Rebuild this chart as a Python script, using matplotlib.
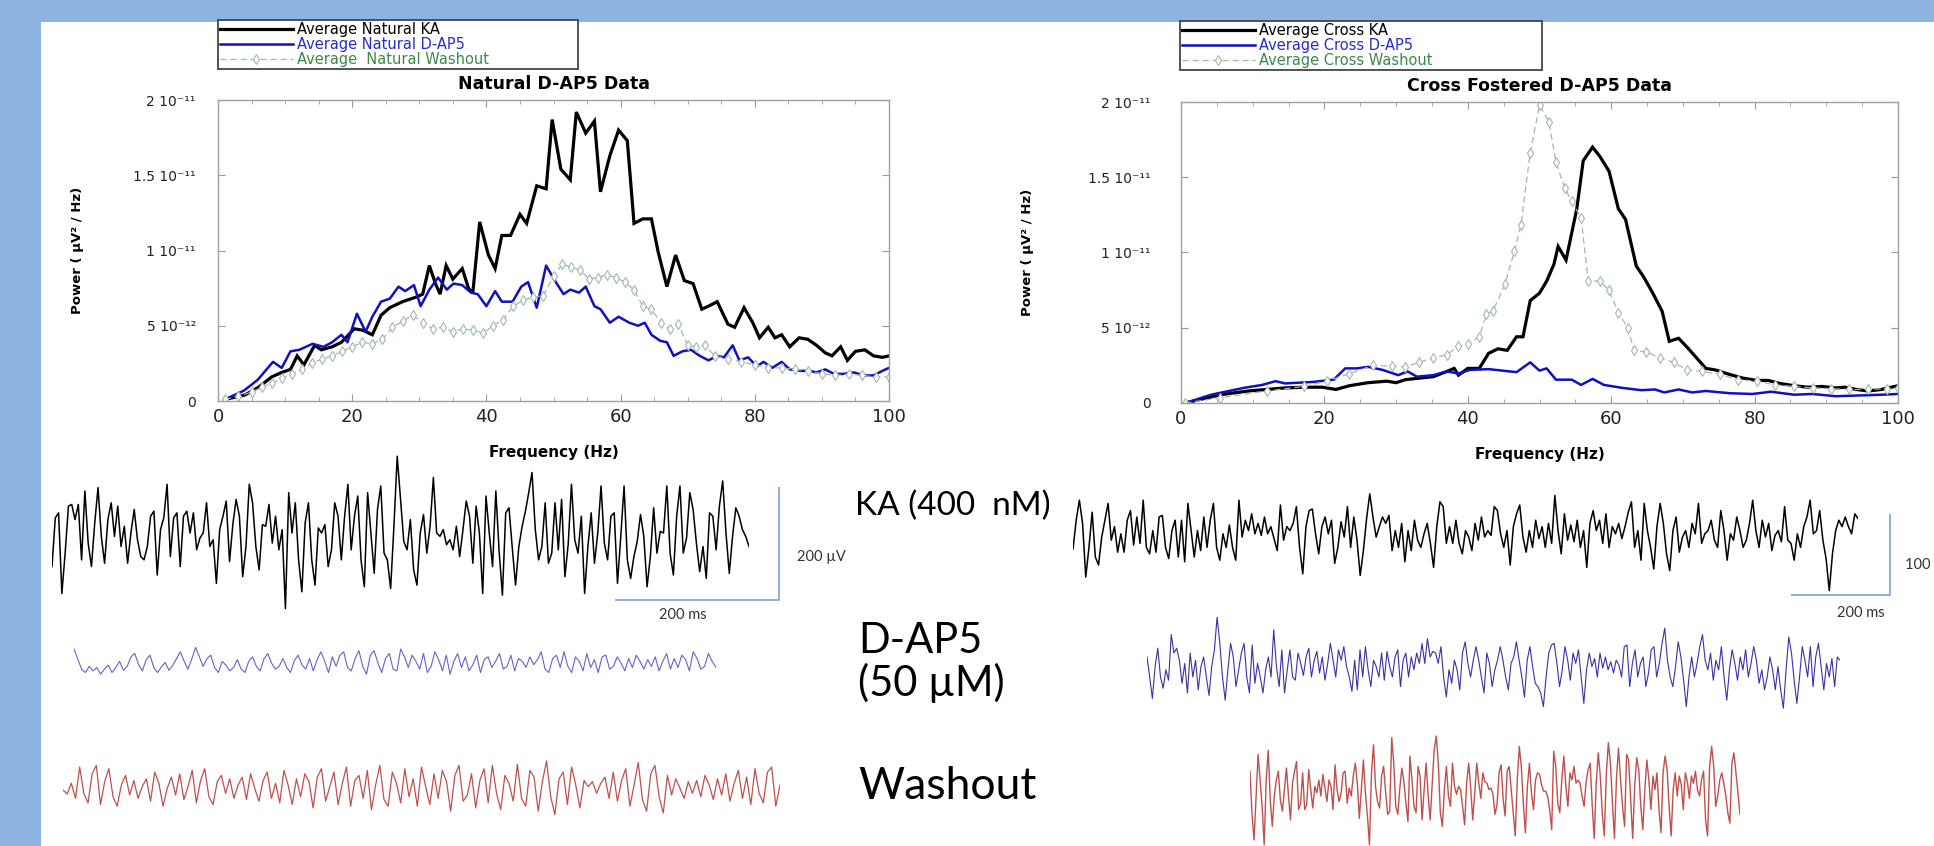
import numpy as np
import matplotlib.pyplot as plt
from matplotlib.patches import Rectangle

W, H = 1934, 846

# ---- power spectra (frequency in Hz, power in units of 1e-12 uV^2/Hz) ----
nat_ka_f = [1, 4, 6, 8, 9.5, 10.8, 11.8, 12.8, 14.4, 15.4, 17, 18.4, 20.3, 21.6, 23, 24.3, 25.6, 27.5, 29.5, 30.5,
            31.5, 32.4, 33.1, 34, 35, 36.4, 37.4, 38, 39, 40.3, 41.3, 42.3, 43.6, 45, 46, 47.5, 48.9, 49.8, 51.1,
            52.5, 53.4, 54.8, 56.1, 57, 58.4, 59.7, 61, 62, 63.3, 64.6, 65.6, 66.9, 68.2, 69.5, 70.8, 72.1, 73.1,
            74.4, 76, 77, 78.4, 79.7, 80.7, 82, 83, 84, 85.2, 86.6, 87.9, 89.2, 90.5, 91.5, 92.8, 93.8, 95, 96.4,
            97.7, 99, 100]
nat_ka_p = [0.1, 0.4, 0.9, 1.6, 1.9, 2.1, 3.0, 2.4, 3.7, 3.4, 3.6, 3.9, 4.8, 4.7, 4.4, 5.7, 6.2, 6.6, 6.9, 7.1,
            9.0, 7.8, 7.1, 9.0, 8.1, 8.8, 7.4, 7.3, 11.9, 9.7, 8.8, 11.0, 11.0, 12.4, 11.8, 14.3, 14.1, 18.7, 15.4,
            14.7, 19.2, 17.8, 18.6, 13.9, 16.3, 18.0, 17.3, 11.8, 12.1, 12.1, 9.9, 7.6, 9.7, 8.0, 7.8, 6.1, 6.3,
            6.6, 5.1, 4.9, 6.2, 5.2, 4.2, 4.9, 4.2, 4.4, 3.6, 4.2, 4.1, 3.7, 3.2, 3.0, 3.6, 2.7, 3.3, 3.4,
            3.0, 2.9, 3.0]

nat_dap5_f = [1, 3.9, 5.9, 8.2, 9.5, 10.8, 12.1, 14.1, 15.7, 17, 18.4, 19.3, 20.7, 22, 23, 24.3, 25.6, 26.9, 27.9,
              29.2, 30.2, 31.5, 32.8, 34.1, 35.1, 36.4, 37.7, 38.7, 40, 41.3, 42.3, 43.9, 45.2, 46.2, 47.5, 48.9,
              50.2, 51.5, 52.5, 53.8, 54.8, 56.1, 57, 58.4, 59.7, 61.3, 62.6, 63.6, 64.6, 65.9, 66.9, 67.9, 69.2,
              70.5, 71.8, 73.1, 74.4, 75.4, 76.7, 77.7, 79, 80.3, 81.3, 82.6, 84, 85.2, 86.9, 88.2, 89.2, 90.5,
              91.8, 93.1, 94.8, 96.1, 97.7, 99, 100]
nat_dap5_p = [0.1, 0.7, 1.4, 2.6, 2.2, 3.3, 3.4, 3.8, 3.6, 3.9, 4.4, 3.9, 5.8, 4.6, 5.6, 6.6, 6.8, 7.6, 7.3,
              7.7, 6.3, 7.4, 8.2, 7.4, 7.8, 7.7, 7.2, 7.1, 6.3, 7.3, 6.6, 6.6, 7.6, 7.9, 6.2, 9.0,
              8.0, 7.1, 7.4, 7.2, 7.6, 6.3, 6.1, 5.2, 5.6, 5.2, 5.0, 5.2, 4.4, 4.0, 3.9, 3.0, 3.3,
              3.4, 3.0, 2.7, 3.0, 2.9, 3.7, 2.7, 2.9, 2.3, 2.6, 2.2, 2.6, 2.1, 2.0, 2.0, 1.9, 2.1,
              1.8, 1.8, 1.9, 1.7, 1.7, 2.0, 2.2]

nat_wash_f = [1, 3, 5, 6.5, 8, 9.5, 11, 12.5, 14, 15.5, 17, 18.5, 20, 21.5, 23, 24.5, 26, 27.5, 29, 30.5, 32,
              33.5, 35, 36.5, 38, 39.5, 41, 42.5, 44, 45.5, 47, 48.5, 50, 51.3, 52.6, 54, 55.3, 56.6, 58, 59.3,
              60.6, 62, 63.3, 64.6, 66, 67.3, 68.6, 70, 71.3, 72.6, 74, 76, 78, 80, 82, 84, 86, 88, 90, 92, 94,
              96, 98, 100]
nat_wash_p = [0.1, 0.3, 0.6, 0.9, 1.2, 1.5, 1.8, 2.1, 2.5, 2.8, 3.0, 3.3, 3.6, 3.9, 3.8, 4.1, 4.9, 5.3, 5.7, 5.2,
              4.8, 4.9, 4.6, 4.8, 4.7, 4.5, 5.0, 5.4, 6.3, 6.7, 6.9, 7.0, 8.3, 9.1, 8.9, 8.7, 8.1, 8.2, 8.4, 8.2,
              7.9, 7.4, 6.3, 6.1, 5.2, 4.8, 5.1, 3.7, 3.6, 3.7, 3.0, 2.8, 2.6, 2.4, 2.2, 2.2, 2.1, 2.0, 1.8, 1.7,
              1.8, 1.7, 1.6, 1.6]

cross_ka_f = [0.6, 5.5, 9.4, 12, 14.5, 17.1, 19.7, 21.6, 23.5, 26.1, 28.7, 30, 31.3, 33.2, 35.2, 37.1, 38.1,
              38.7, 40, 41.6, 42.9, 44.2, 45.5, 46.8, 47.7, 48.7, 50, 51, 52, 52.6, 53.7, 55.2, 56.1, 57.4, 58.4,
              59.7, 61, 62, 63.5, 64.5, 65.8, 67.1, 68.1, 69.4, 70.6, 71.9, 73.2, 74.5, 76.5, 78.4, 80.3, 81.9,
              83.5, 85.5, 87.4, 89.4, 91.3, 92.6, 94.2, 95.8, 97.7, 100]
cross_ka_p = [0.0, 0.55, 0.8, 0.9, 1.0, 1.05, 1.05, 0.9, 1.15, 1.35, 1.45, 1.35, 1.55, 1.65, 1.75, 2.1, 2.3,
              1.85, 2.3, 2.3, 3.3, 3.6, 3.5, 4.4, 4.4, 6.8, 7.3, 8.1, 9.2, 10.4, 9.5, 12.9, 16.1, 17.0, 16.4,
              15.4, 12.9, 12.2, 9.1, 8.4, 7.3, 6.1, 4.1, 4.3, 3.7, 3.0, 2.3, 2.2, 1.9, 1.65, 1.5, 1.5,
              1.3, 1.15, 1.05, 1.1, 1.0, 1.05, 0.9, 0.8, 0.9, 1.15]

cross_dap5_f = [0.6, 4.2, 8.7, 11.3, 13.2, 14.5, 16.5, 18.4, 20.3, 21.3, 22.9, 24.5, 26.1, 28.1, 30.3, 31.6,
                32.9, 35.2, 37.1, 38.7, 40.3, 42.9, 44.8, 46.8, 48.7, 50, 51, 52.3, 54.5, 55.8, 57.4, 59, 61.6,
                64.2, 66.1, 67.4, 69.4, 71.3, 73.2, 76.5, 79.7, 82.3, 85.5, 88.1, 91.3, 94.5, 97.7, 100]
cross_dap5_p = [0.0, 0.55, 1.0, 1.2, 1.45, 1.3, 1.35, 1.4, 1.5, 1.55, 2.3, 2.3, 2.4, 2.2, 1.85, 2.1,
                1.75, 1.85, 2.1, 1.95, 2.2, 2.25, 2.15, 2.05, 2.7, 2.15, 2.3, 1.55, 1.55, 1.2, 1.6, 1.2, 1.0,
                0.85, 0.9, 0.7, 0.9, 0.7, 0.8, 0.65, 0.6, 0.75, 0.55, 0.6, 0.45, 0.5, 0.55, 0.6]

cross_wash_f = [0.6, 5.5, 12, 17.1, 20.3, 23.5, 26.8, 29.4, 31.3, 33.2, 35.2, 37.1, 38.7, 40, 41.6, 42.6, 43.5,
                45.2, 46.5, 47.4, 48.7, 50, 51.3, 52.3, 53.5, 54.5, 55.8, 56.8, 58.4, 59.7, 61, 62.3, 63.2, 64.8,
                66.8, 68.7, 70.6, 72.6, 75.2, 77.7, 80.3, 82.9, 85.5, 88.1, 90.6, 93.2, 95.8, 98.4, 100]
cross_wash_p = [0.0, 0.35, 0.8, 1.1, 1.45, 1.95, 2.5, 2.45, 2.4, 2.7, 3.0, 3.2, 3.8, 3.9, 4.4, 5.9, 6.1,
                7.9, 10.1, 11.8, 16.6, 19.8, 18.7, 16.0, 14.3, 13.4, 12.3, 8.1, 8.1, 7.5, 6.0, 5.0, 3.5, 3.4,
                3.0, 2.7, 2.2, 2.1, 1.9, 1.55, 1.45, 1.2, 1.1, 1.0, 0.95, 0.9, 0.9, 0.95, 1.0]

y_ticks = [0, 5e-12, 1e-11, 1.5e-11, 2e-11]
y_tick_labels = ['0', '5 10⁻¹²', '1 10⁻¹¹', '1.5 10⁻¹¹', '2 10⁻¹¹']
x_ticks = [0, 20, 40, 60, 80, 100]

# ---- example field potential traces (uV) ----
nat_ka_trace = [-60, 27, 36, -108, -36, 48, 51, 24, 51, -48, 75, -18, -60, 18, 81, -6, -54, 24, 54, -6, 48, -24,
                12, -54, 0, 42, -12, -42, -48, -24, 30, 39, -75, 6, 27, 87, -42, 27, 36, -60, 30, 39, 0, 36, -30,
                -9, 0, 54, -24, -12, -90, 6, 30, 57, -51, 15, 60, 30, -78, -24, 87, 54, -24, -66, 15, 12, 51, -18,
                30, -30, 6, -135, 72, 0, 54, -48, -105, 18, 54, -48, -93, 9, 0, 15, -60, -30, 54, 30, -48, 30, 87,
                -30, 30, 66, -48, -96, 72, 0, -72, 42, 84, -36, -48, -99, 12, 137, 60, -15, -30, 24, -66, -93, 0,
                33, -36, 12, 99, 0, -6, 6, -21, -12, -30, 12, -42, 6, 57, 30, -54, 48, 0, -108, 66, 0, -60, 75,
                -33, -111, 36, 45, -27, -93, -24, 12, 39, 72, 108, 6, -48, -24, 54, -54, -36, 54, -30, 60, -78,
                -21, 87, -12, -36, 30, -108, -24, 36, -54, 0, 84, -18, -48, 30, 36, -90, -6, 84, -48, -81, -42,
                -15, 33, -6, -96, -42, 45, -36, 3, 0, 84, -36, -75, 30, 84, -36, -9, 72, 42, -18, -69, -24, -81,
                36, 30, -30, 48, 93, 0, -72, -6, 45, 30, 6, -6, -24]

nat_dap5_trace = [25, 7, -11, -17, -6, -14, -8, -20, -11, -4, -17, -8, 3, -13, -6, 11, 17, -3, -14, 6, 14, -8, -17,
                  -7, 1, -13, -4, 8, 20, 3, -11, 7, 28, 11, -6, 8, 14, -8, -17, 3, -4, -14, -8, 6, -11, -17, 3, 11,
                  -6, -14, 7, 17, 0, -11, -6, 8, -8, -17, 4, 14, -3, -11, 8, -14, 6, 20, 3, -17, 11, -6, 14, 20, -8,
                  -14, 8, 22, -6, -20, 14, 22, 0, -17, 8, 17, -11, -14, 25, 11, -8, 14, 3, -11, 17, -17, -6, 20, 6,
                  -14, 14, -20, 3, 17, -8, 11, -14, -3, 14, -17, 6, 11, -8, 3, 17, -11, -6, 14, -14, 8, 3, -8, 11,
                  -3, 6, 20, -11, -17, 8, 14, -8, 20, -6, -17, 11, 3, -14, 17, -8, 6, -17, 11, 14, -11, -6, 11, 0,
                  -14, 8, -8, 14, 3, -11, 6, -6, 11, -14, 3, 17, -11, 8, -8, 14, 6, -14, 20, 8, -11, -6, 17, 3, -8]

nat_wash_trace = [0, -7, 12, -15, 41, -6, -23, 29, 44, -26, 15, 38, -12, -29, 9, 26, -9, 17, -15, 6, 20, -20, 32,
                  12, -29, 3, 23, -9, 29, -17, 6, 35, -23, 17, 38, -12, -26, 15, 26, -6, 20, -15, 9, 23, -17, 29, 3,
                  -20, 17, 32, -15, 12, -23, 35, 9, -26, 20, -12, 29, 15, -32, 23, 38, -20, 6, 32, -26, 12, 41, -29,
                  17, 26, -15, 35, -35, 9, 44, -17, -29, 32, 12, -23, 38, -12, 20, -29, 41, 6, -26, 29, -15, 35, 15,
                  -38, 26, 44, -20, -9, 29, -32, 17, 38, -23, 44, -6, -35, 26, 12, -20, 46, -15, -29, 35, 23, -38,
                  15, 52, -12, -44, 20, 32, -26, 41, 9, -32, 17, 6, 15, -6, 12, 23, -15, 32, -20, 17, 38, -29, 9,
                  49, -17, -38, 29, 44, -12, -41, 26, -9, 20, 3, -15, 15, -6, 17, -12, 26, 9, -17, 20, -9, 29, -20,
                  12, 35, -15, 23, -26, 38, -6, -23, 32, 41, -29, 9]

cross_ka_trace = [-15, 21, 46, 17, -50, -13, 31, -25, -35, 0, 21, 42, -4, 13, -19, 4, -19, 21, 33, -10, 25, -8, 46,
                  -13, -21, 8, -19, 25, 27, -13, -27, 8, 21, -25, 21, -31, 42, 8, -25, 8, -17, 25, -13, 21, 42, -13,
                  -29, 4, -13, 15, -13, -29, 46, 0, 21, 8, 29, 4, 17, 2, 25, 4, 13, -2, -17, 40, -4, 13, 8, 17, 38,
                  -13, -46, 13, 33, 35, 4, -21, 13, 25, 4, 21, -33, -13, 19, 0, 38, -13, 25, -4, -48, -17, 23, 54,
                  25, 0, 13, 25, 17, 27, -17, 8, -13, 17, -31, 8, -17, 21, -4, -13, 4, 17, -8, -38, 13, 44, 38, -8,
                  13, -8, 21, -8, -21, 8, 0, -17, 17, -4, 25, 0, 8, 2, 38, 33, 4, -13, 8, -35, 13, 29, 40, 0, -19,
                  8, -13, 21, -2, 13, -13, 17, -8, 52, 8, -21, 29, -4, 15, -6, 21, -13, 8, -38, 17, 33, 8, 21, -8,
                  29, -13, 13, 4, 17, -2, 13, 31, 44, -13, 8, -29, 42, 8, -13, -40, 13, 42, 17, -21, -42, 8, 25,
                  -19, 0, 8, -13, 17, 4, 42, -8, 4, 8, 21, -4, -13, 33, 8, -29, 4, -4, 25, 8, -13, -4, 17, 46, 8,
                  -13, 21, 0, 17, -17, 2, 8, -6, 38, -4, -8, -29, 4, -13, 13, 25, 46, 4, 8, 33, -4, -27, -67, -21,
                  8, 21, 13, 25, 13, 4, 29, 23]

cross_dap5_trace = [10, -15, -42, -2, 21, -15, -29, -6, -19, 38, 15, 21, 6, -23, 2, -35, 15, -15, 6, -31, -2, 10,
                    -15, -38, -2, 19, 60, 27, -15, -44, -6, 27, 10, -27, -6, 15, 27, -15, -35, 25, -23, 2, -15, -35,
                    -6, 10, -15, 44, -2, -27, 19, -35, -6, 19, -15, -19, 15, 2, -13, 10, 21, -15, 6, 17, -10, 10,
                    -19, 2, 27, 6, -15, 19, 6, 23, -2, -15, -33, 6, -31, 19, -15, 23, -6, -27, 6, -2, -15, 15, -19,
                    17, -2, -15, 10, 19, -27, 6, 15, -15, 10, -6, 15, 2, 27, 2, 33, 10, 17, 15, 2, 23, -15, -40, -6,
                    -23, 6, -6, -31, 15, 29, 2, -15, 6, 23, 6, -15, -35, 15, 2, -27, -6, 6, 23, 6, -15, -31, 2, 10,
                    29, 6, -15, -40, 6, 23, -2, -23, -27, -35, -52, -15, 15, 25, 27, 2, -27, -6, 23, 6, -19, 15, 2,
                    19, -15, -48, -6, 15, -2, 8, -15, 15, -4, 10, -6, 4, -10, 6, 0, -15, 23, 25, -27, 2, 19, -15, 2,
                    10, -27, -10, 19, 23, -15, 2, 27, 46, 6, -15, -27, -2, 29, 10, -19, -52, -15, 10, -15, 2, 23, 38,
                    6, -6, 15, -19, 6, -6, 23, -15, -44, -6, 19, 2, -19, 10, -6, 19, -15, 2, 23, 6, -23, -6, -31,
                    -15, 10, -6, -31, -2, -31, -54, -6, 35, 15, -19, -48, -15, 23, 6, -15, 23, -27, 10, 27, -2, -31,
                    2, -15, 8, -27, 10, 6]

cross_wash_trace = [21, -33, -65, -10, 42, 10, -23, -71, 10, 47, -15, -48, -10, 10, 21, -15, -29, -2, 25, -10, -40,
                    6, 21, 33, -27, -19, 19, -27, -21, 23, -2, -25, 2, -6, 10, -10, 17, 0, -17, 10, 2, -27, 29, -2,
                    -17, -6, 19, 21, -19, 0, -10, 15, 31, 6, -38, -2, 35, -6, -35, -71, 19, 54, 2, -17, -25, 15, 27,
                    -6, -33, -29, 63, 31, -23, -33, 0, 25, 8, -19, -42, 40, 10, -23, -31, 27, 15, -40, -2, 31, -10,
                    -40, 6, 48, 65, 31, -31, -48, -2, 27, -10, -23, 31, 2, -8, 2, -2, -23, -46, 6, 31, 0, -40, -6,
                    31, 6, -13, 19, 8, 6, -2, 0, -8, -33, -21, 19, 29, -13, -35, 21, 27, -2, -31, -60, 10, 52, 27,
                    -19, -56, 2, 31, -6, -27, 10, 19, 17, 4, -4, -4, -10, -27, -52, 46, 27, -19, -31, 10, 40, 2, -23,
                    19, 10, 27, 6, 10, 6, -10, -23, 8, 23, 31, -21, -63, 6, 44, 15, -33, -60, 19, 57, 31, -19, -63,
                    13, 50, 10, -23, -48, 42, 35, -15, -63, 2, 38, 23, -23, -52, -2, 35, 10, -27, 15, -2, 19, -27,
                    -56, 19, 40, 23, -23, -60, -2, 19, -10, 15, 4, -27, 19, 8, -13, 15, 6, 21, -2, -10, 10, 21, -40,
                    -60, 27, 52, 27, -23, -10, 10, 19, 6, -10, -31, -44, 31, 44, 19, -6, -33]

# trace durations (ms)
nat_dur = {'ka': 855, 'dap5': 788, 'wash': 880}
cross_dur = {'ka': 1602, 'dap5': 1414, 'wash': 1000}
scale_ms = 200
scale_uv_nat = 200
scale_uv_cross = 100

fig = plt.figure(figsize=(W / 100, H / 100), dpi=100, facecolor='#8db3e2')
fig.patches.append(Rectangle((41 / W, 0), 1 - 41 / W, 1 - 22 / H, transform=fig.transFigure,
                             facecolor='white', edgecolor='none', zorder=-5))


def px_axes(x0, y0, x1, y1):
    return fig.add_axes([x0 / W, 1 - y1 / H, (x1 - x0) / W, (y1 - y0) / H])


SF = 'DejaVu Sans'
wash_col = '#a3b9a9'


def spectrum(box, title, ka, dap5, wash, labels, leg_box, ypad, ylab_x):
    ax = px_axes(*box)
    l1, = ax.plot(ka[0], np.array(ka[1]) * 1e-12, color='black', lw=2.3, solid_joinstyle='miter')
    l2, = ax.plot(dap5[0], np.array(dap5[1]) * 1e-12, color='#1010c0', lw=1.8)
    l3, = ax.plot(wash[0], np.array(wash[1]) * 1e-12, color=wash_col, lw=0.9, ls=(0, (5, 3)),
                  marker='d', ms=5, mfc='white', mec=wash_col, mew=0.8)
    ax.set_xlim(0, 100)
    ax.set_ylim(0, 2e-11)
    ax.set_xticks(x_ticks)
    ax.set_xticks(np.arange(0, 101, 5), minor=True)
    ax.set_yticks(y_ticks, y_tick_labels)
    ax.tick_params(which='both', direction='in', top=True, right=True, colors='#999999',
                   labelcolor='#222222')
    ax.tick_params(axis='x', which='major', length=5, labelsize=13, pad=5)
    ax.tick_params(axis='x', which='minor', length=3)
    ax.tick_params(axis='y', length=5, labelsize=10, pad=ypad)
    for s in ax.spines.values():
        s.set_color('#a0a0a0')
        s.set_linewidth(1.0)
    ax.set_title(title, fontsize=12.5, fontweight='bold', family=SF, pad=8)
    ax.set_xlabel('Frequency (Hz)', fontsize=11, fontweight='bold', family=SF, labelpad=14)
    ax.set_ylabel('Power ( µV² / Hz)', fontsize=9.5, fontweight='bold', family=SF)
    ax.yaxis.set_label_coords(ylab_x, 0.5)
    x0, y0, x1, y1 = leg_box
    leg = fig.legend([l1, l2, l3], labels, loc='center', mode='expand',
                     bbox_to_anchor=(x0 / W, 1 - y1 / H, (x1 - x0) / W, (y1 - y0) / H),
                     bbox_transform=fig.transFigure, fontsize=10.5, labelspacing=0.0,
                     handlelength=5.0, handletextpad=0.3, borderpad=0.12, borderaxespad=0,
                     fancybox=False, framealpha=1, edgecolor='#444444', numpoints=1,
                     labelcolor=['black', '#2a2ad0', '#3a8a4a'])
    leg.get_frame().set_linewidth(1.3)
    return ax


spectrum((218, 100, 889, 401), 'Natural D-AP5 Data',
         (nat_ka_f, nat_ka_p), (nat_dap5_f, nat_dap5_p), (nat_wash_f, nat_wash_p),
         ['Average Natural KA', 'Average Natural D-AP5', 'Average  Natural Washout'],
         (218, 23, 578, 66), 16, -0.2)
spectrum((1181, 102, 1898, 403), 'Cross Fostered D-AP5 Data',
         (cross_ka_f, cross_ka_p), (cross_dap5_f, cross_dap5_p), (cross_wash_f, cross_wash_p),
         ['Average Cross KA', 'Average Cross D-AP5', 'Average Cross Washout'],
         (1180, 24, 1542, 67), 22, -0.205)


def trace_axes(x0, x1, ymid, lim, px_uv, values, dur, color, lw):
    h = 2 * lim * px_uv
    ax = px_axes(x0, ymid - h / 2, x1, ymid + h / 2)
    t = np.linspace(0, dur, len(values))
    ax.plot(t, values, color=color, lw=lw)
    ax.set_xlim(0, dur)
    ax.set_ylim(-lim, lim)
    ax.axis('off')
    return ax


bar_col = '#8aaee0'
TF = ['Lato', 'DejaVu Sans']

# natural side: 0.815 px/ms, 0.56 px/uV
ax = trace_axes(52, 749, 533, 140, 0.56, nat_ka_trace, nat_dur['ka'], 'black', 1.1)
t0, v0 = 692, -120
ax.plot([t0, t0 + scale_ms, t0 + scale_ms], [v0, v0, v0 + scale_uv_nat], color=bar_col, lw=1.4, clip_on=False)
ax.text(t0 + scale_ms + 22, -43, '200 µV', fontsize=10.5, family=TF, color='#333333', va='center')
ax.text(t0 + 82, -146, '200 ms', fontsize=10.5, family=TF, color='#333333', ha='center', va='center')
trace_axes(74, 716, 663, 40, 0.56, nat_dap5_trace, nat_dur['dap5'], '#6b5fcf', 0.8)
trace_axes(63, 780, 790, 60, 0.56, nat_wash_trace, nat_dur['wash'], '#c0504d', 0.9)

# cross fostered side: 0.49 px/ms, 0.8 px/uV
ax = trace_axes(1073, 1858, 537, 80, 0.8, cross_ka_trace, cross_dur['ka'], 'black', 1.1)
t0, v0 = 1467, -72
ax.plot([t0, t0 + scale_ms, t0 + scale_ms], [v0, v0, v0 + scale_uv_cross], color=bar_col, lw=1.4, clip_on=False)
ax.text(t0 + 140, -95, '200 ms', fontsize=10.5, family=TF, color='#333333', ha='center', va='center')
ax.text(t0 + scale_ms + 30, -35, '100 µV', fontsize=10.5, family=TF, color='#333333', va='center')
trace_axes(1147, 1840, 665, 60, 0.8, cross_dap5_trace, cross_dur['dap5'], '#3a30a8', 0.8)
trace_axes(1250, 1740, 788, 75, 0.8, cross_wash_trace, cross_dur['wash'], '#c0504d', 1.0)

# condition labels
fig.text(855 / W, 1 - 506 / H, 'KA (400  nM)', fontsize=24, family=TF, va='center')
fig.text(858 / W, 1 - 641 / H, 'D-AP5', fontsize=30, family=TF, va='center')
fig.text(858 / W, 1 - 683 / H, '(50 µM)', fontsize=30, family=TF, va='center')
fig.text(858 / W, 1 - 786 / H, 'Washout', fontsize=32, family=TF, va='center')

fig.savefig('out.png', dpi=100, facecolor=fig.get_facecolor())
